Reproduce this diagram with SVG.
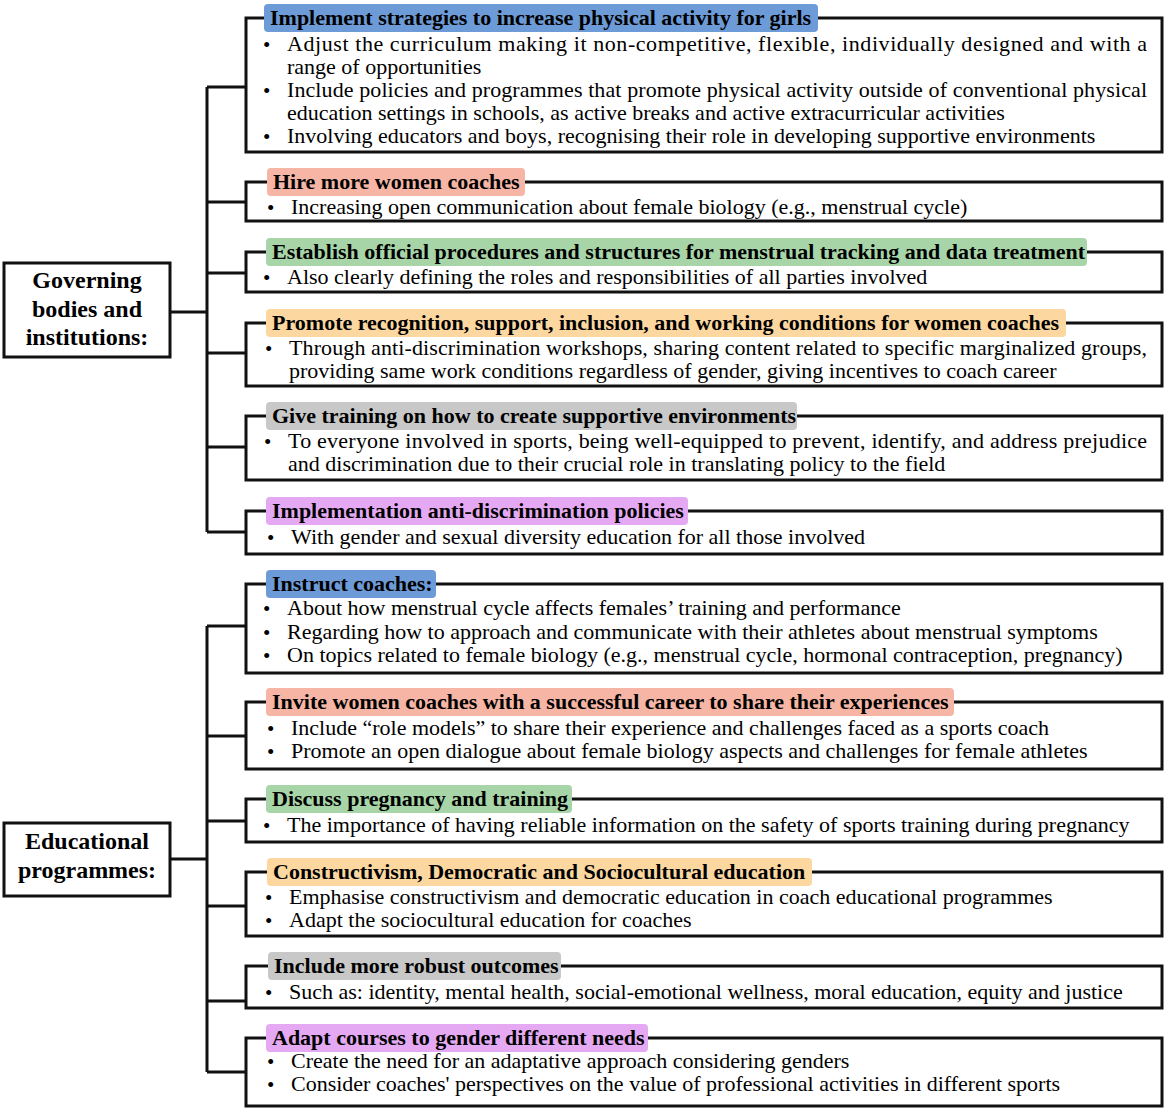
<svg xmlns="http://www.w3.org/2000/svg" width="1169" height="1112" viewBox="0 0 1169 1112">
<style>
.bx{fill:#fff;stroke:#111;stroke-width:3}
.cn{fill:none;stroke:#111;stroke-width:3}
.hd{font-family:"Liberation Serif","Times New Roman",serif;font-weight:bold;font-size:22px;fill:#000}
.tx{font-family:"Liberation Serif","Times New Roman",serif;font-size:22px;fill:#000}
.bl{font-family:"Liberation Serif","Times New Roman",serif;font-size:21px;fill:#000}
.rt{font-family:"Liberation Serif","Times New Roman",serif;font-weight:bold;font-size:24px;fill:#000;text-anchor:middle}
.blue{fill:#6d9bd8}.sal{fill:#f6b5a5}.grn{fill:#a7d5a8}.org{fill:#fcd7a0}.gry{fill:#c8c8c8}.pur{fill:#e5a9f3}
</style>
<rect width="1169" height="1112" fill="#fff"/>
<g id="connectors">
<path class="cn" d="M170,312H207M207,87V532M207,87H246M207,202H246M207,273H246M207,353H246M207,447H246M207,532H246"/>
<path class="cn" d="M170,859H207M207,626V1072M207,626H246M207,736H246M207,821H246M207,906H246M207,1001H246M207,1072H246"/>
</g>
<g id="governing">
<rect class="bx" x="4" y="263" width="166" height="94"/>
<text class="rt" x="87" y="288">Governing</text>
<text class="rt" x="87" y="317">bodies and</text>
<text class="rt" x="87" y="345">institutions:</text>
</g>
<g id="educational">
<rect class="bx" x="4" y="823" width="166" height="73"/>
<text class="rt" x="87" y="849">Educational</text>
<text class="rt" x="87" y="878">programmes:</text>
</g>
<g id="b1">
<rect class="bx" x="246" y="18" width="916" height="134"/>
<rect class="blue" x="264" y="4" width="554" height="28" rx="4"/>
<text class="hd" x="270" y="25">Implement strategies to increase physical activity for girls</text>
<text class="bl" x="263" y="52">•</text><text class="tx" x="287" y="51" textLength="860" lengthAdjust="spacing">Adjust the curriculum making it non-competitive, flexible, individually designed and with a</text>
<text class="tx" x="287" y="74">range of opportunities</text>
<text class="bl" x="263" y="98">•</text><text class="tx" x="287" y="97" textLength="860" lengthAdjust="spacing">Include policies and programmes that promote physical activity outside of conventional physical</text>
<text class="tx" x="287" y="120">education settings in schools, as active breaks and active extracurricular activities</text>
<text class="bl" x="263" y="144">•</text><text class="tx" x="287" y="143">Involving educators and boys, recognising their role in developing supportive environments</text>
</g>
<g id="b2">
<rect class="bx" x="246" y="182" width="916" height="39"/>
<rect class="sal" x="267" y="168" width="258" height="28" rx="4"/>
<text class="hd" x="273" y="189">Hire more women coaches</text>
<text class="bl" x="267" y="215">•</text><text class="tx" x="291" y="214">Increasing open communication about female biology (e.g., menstrual cycle)</text>
</g>
<g id="b3">
<rect class="bx" x="246" y="252" width="916" height="40"/>
<rect class="grn" x="266" y="238" width="821" height="28" rx="4"/>
<text class="hd" x="272" y="259">Establish official procedures and structures for menstrual tracking and data treatment</text>
<text class="bl" x="263" y="285">•</text><text class="tx" x="287" y="284">Also clearly defining the roles and responsibilities of all parties involved</text>
</g>
<g id="b4">
<rect class="bx" x="246" y="323" width="916" height="63"/>
<rect class="org" x="266" y="309" width="800" height="28" rx="4"/>
<text class="hd" x="272" y="330">Promote recognition, support, inclusion, and working conditions for women coaches</text>
<text class="bl" x="265" y="356">•</text><text class="tx" x="289" y="355" textLength="858" lengthAdjust="spacing">Through anti-discrimination workshops, sharing content related to specific marginalized groups,</text>
<text class="tx" x="289" y="378">providing same work conditions regardless of gender, giving incentives to coach career</text>
</g>
<g id="b5">
<rect class="bx" x="246" y="416" width="916" height="64"/>
<rect class="gry" x="266" y="402" width="531" height="28" rx="4"/>
<text class="hd" x="272" y="423">Give training on how to create supportive environments</text>
<text class="bl" x="264" y="449">•</text><text class="tx" x="288" y="448" textLength="859" lengthAdjust="spacing">To everyone involved in sports, being well-equipped to prevent, identify, and address prejudice</text>
<text class="tx" x="288" y="471">and discrimination due to their crucial role in translating policy to the field</text>
</g>
<g id="b6">
<rect class="bx" x="246" y="511" width="916" height="43"/>
<rect class="pur" x="266" y="497" width="422" height="28" rx="4"/>
<text class="hd" x="272" y="518">Implementation anti-discrimination policies</text>
<text class="bl" x="267" y="545">•</text><text class="tx" x="291" y="544">With gender and sexual diversity education for all those involved</text>
</g>
<g id="b7">
<rect class="bx" x="246" y="584" width="916" height="89"/>
<rect class="blue" x="266" y="570" width="170" height="28" rx="4"/>
<text class="hd" x="272" y="591">Instruct coaches:</text>
<text class="bl" x="263" y="616">•</text><text class="tx" x="287" y="615">About how menstrual cycle affects females’ training and performance</text>
<text class="bl" x="263" y="640">•</text><text class="tx" x="287" y="639">Regarding how to approach and communicate with their athletes about menstrual symptoms</text>
<text class="bl" x="263" y="663">•</text><text class="tx" x="287" y="662">On topics related to female biology (e.g., menstrual cycle, hormonal contraception, pregnancy)</text>
</g>
<g id="b8">
<rect class="bx" x="246" y="702" width="916" height="67"/>
<rect class="sal" x="266" y="688" width="688" height="28" rx="4"/>
<text class="hd" x="272" y="709">Invite women coaches with a successful career to share their experiences</text>
<text class="bl" x="267" y="736">•</text><text class="tx" x="291" y="735">Include “role models” to share their experience and challenges faced as a sports coach</text>
<text class="bl" x="267" y="759">•</text><text class="tx" x="291" y="758">Promote an open dialogue about female biology aspects and challenges for female athletes</text>
</g>
<g id="b9">
<rect class="bx" x="246" y="799" width="916" height="43"/>
<rect class="grn" x="266" y="785" width="306" height="28" rx="4"/>
<text class="hd" x="272" y="806">Discuss pregnancy and training</text>
<text class="bl" x="263" y="833">•</text><text class="tx" x="287" y="832">The importance of having reliable information on the safety of sports training during pregnancy</text>
</g>
<g id="b10">
<rect class="bx" x="246" y="872" width="916" height="64"/>
<rect class="org" x="267" y="858" width="545" height="28" rx="4"/>
<text class="hd" x="273" y="879">Constructivism, Democratic and Sociocultural education</text>
<text class="bl" x="265" y="905">•</text><text class="tx" x="289" y="904">Emphasise constructivism and democratic education in coach educational programmes</text>
<text class="bl" x="265" y="928">•</text><text class="tx" x="289" y="927">Adapt the sociocultural education for coaches</text>
</g>
<g id="b11">
<rect class="bx" x="246" y="966" width="916" height="42"/>
<rect class="gry" x="268" y="952" width="293" height="28" rx="4"/>
<text class="hd" x="274" y="973">Include more robust outcomes</text>
<text class="bl" x="265" y="1000">•</text><text class="tx" x="289" y="999">Such as: identity, mental health, social-emotional wellness, moral education, equity and justice</text>
</g>
<g id="b12">
<rect class="bx" x="246" y="1038" width="916" height="68"/>
<rect class="pur" x="266" y="1024" width="382" height="28" rx="4"/>
<text class="hd" x="272" y="1045">Adapt courses to gender different needs</text>
<text class="bl" x="267" y="1069">•</text><text class="tx" x="291" y="1068">Create the need for an adaptative approach considering genders</text>
<text class="bl" x="267" y="1092">•</text><text class="tx" x="291" y="1091">Consider coaches' perspectives on the value of professional activities in different sports</text>
</g>
</svg>
